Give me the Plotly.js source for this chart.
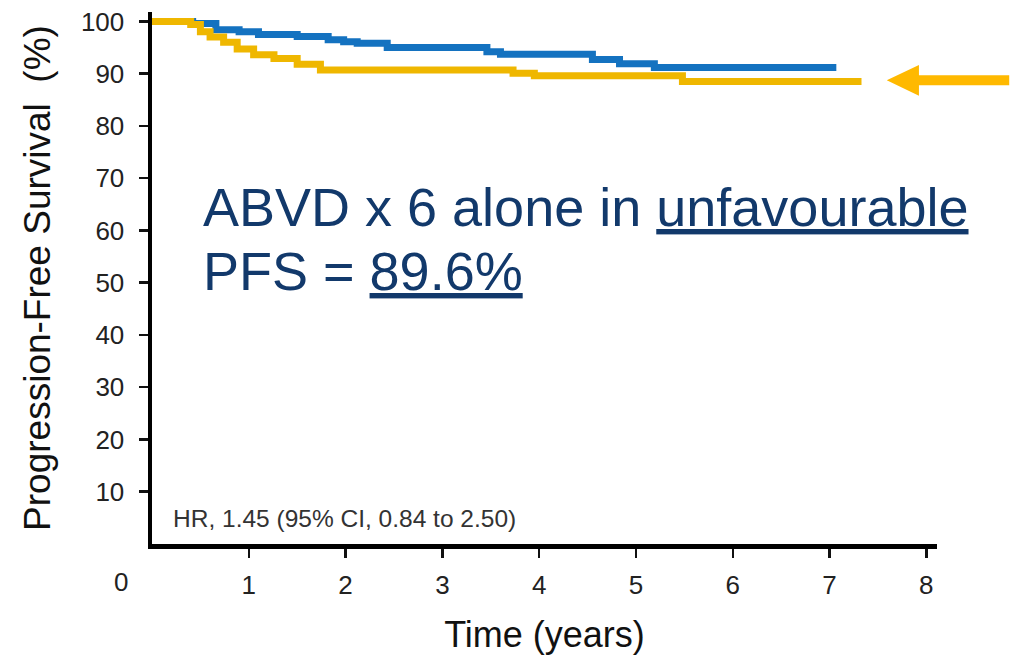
<!DOCTYPE html>
<html>
<head>
<meta charset="utf-8">
<script src="https://cdn.plot.ly/plotly-3.0.1.min.js"></script>
<style>html,body{margin:0;padding:0;background:#fff;}#chart{width:1012px;height:659px;}</style>
</head>
<body>
<div id="chart"></div>
<script>
// Kaplan-Meier step data (time in years, PFS %)
const blueTime = [0, 0.42, 0.66, 0.90, 1.10, 1.50, 1.82, 1.98, 2.12, 2.43, 3.46, 3.60, 4.55, 4.83, 5.19, 7.07];
const blueSurv = [100, 99.6, 98.4, 98.0, 97.5, 97.1, 96.5, 96.1, 95.8, 95.0, 94.2, 93.7, 92.7, 91.9, 91.2, 91.2];

const goldTime = [0, 0.40, 0.50, 0.60, 0.74, 0.88, 1.05, 1.26, 1.50, 1.74, 3.73, 3.95, 5.48, 7.33];
const goldSurv = [100, 99.4, 98.0, 97.0, 96.0, 94.7, 93.6, 92.9, 91.8, 90.7, 90.1, 89.6, 88.5, 88.5];

const xTickVals = [1, 2, 3, 4, 5, 6, 7, 8];
const xTickText = ['1', '2', '3', '4', '5', '6', '7', '8'];
const yTickVals = [10, 20, 30, 40, 50, 60, 70, 80, 90, 100];
const yTickText = ['10', '20', '30', '40', '50', '60', '70', '80', '90', '100'];

const yTitle = 'Progression-Free Survival\u00A0 (%)';
const xTitle = 'Time (years)';
const hrText = 'HR, 1.45 (95% CI, 0.84 to 2.50)';
const noteLine1 = 'ABVD x 6 alone in <span style="text-decoration:underline">unfavourable</span>';
const noteLine2 = 'PFS = <span style="text-decoration:underline">89.6%</span>';

const sans = '"Liberation Sans", Arial, sans-serif';

const traces = [
  {x: blueTime, y: blueSurv, type: 'scatter', mode: 'lines', line: {shape: 'hv', color: '#1472C0', width: 7}, hoverinfo: 'skip'},
  {x: goldTime, y: goldSurv, type: 'scatter', mode: 'lines', line: {shape: 'hv', color: '#EFB700', width: 7}, hoverinfo: 'skip'}
];

const layout = {
  width: 1012, height: 659,
  margin: {l: 152, r: 75, t: 12, b: 115},
  paper_bgcolor: '#ffffff', plot_bgcolor: '#ffffff',
  showlegend: false,
  xaxis: {
    range: [0, 8.11], showgrid: false, zeroline: false,
    showline: true, linewidth: 4.5, linecolor: '#000',
    ticks: 'outside', ticklen: 9, tickwidth: 2.5, tickcolor: '#111',
    tickvals: xTickVals, ticktext: xTickText,
    tickfont: {family: sans, size: 26, color: '#222'},
    ticklabelstandoff: 5,
    title: {text: xTitle, font: {family: sans, size: 36, color: '#111'}, standoff: 24}
  },
  yaxis: {
    range: [0, 101.8], showgrid: false, zeroline: false,
    showline: true, linewidth: 4.5, linecolor: '#000',
    ticks: 'outside', ticklen: 9, tickwidth: 2.5, tickcolor: '#111',
    tickvals: yTickVals, ticktext: yTickText,
    tickfont: {family: sans, size: 26, color: '#222'},
    ticklabelstandoff: 9,
    title: {text: yTitle, font: {family: sans, size: 37, color: '#111'}, standoff: 20}
  },
  annotations: [
    {xref: 'x', yref: 'y', x: 0, y: 0, xshift: -31, yshift: -38, text: '0', showarrow: false,
     font: {family: sans, size: 26, color: '#222'}, xanchor: 'center', yanchor: 'middle'},
    {xref: 'x', yref: 'y', x: 0.2, y: 4.84, text: hrText, showarrow: false,
     font: {family: sans, size: 24.5, color: '#333'}, xanchor: 'left', yanchor: 'middle'},
    {xref: 'x', yref: 'y', x: 0.51, y: 64.5, text: noteLine1, showarrow: false,
     font: {family: sans, size: 54, color: '#12396B'}, xanchor: 'left', yanchor: 'middle'},
    {xref: 'x', yref: 'y', x: 0.51, y: 52.3, text: noteLine2, showarrow: false,
     font: {family: sans, size: 54, color: '#12396B'}, xanchor: 'left', yanchor: 'middle'}
  ],
  shapes: [
    {type: 'path', xref: 'paper', yref: 'paper', layer: 'above',
     path: 'M 0.936 0.8716 L 0.977 0.9006 L 0.977 0.881 L 1.092 0.881 L 1.092 0.8622 L 0.977 0.8622 L 0.977 0.8426 Z',
     fillcolor: '#FFB900', line: {width: 0}}
  ]
};

Plotly.newPlot('chart', traces, layout, {displayModeBar: false, staticPlot: true});
</script>
</body>
</html>
